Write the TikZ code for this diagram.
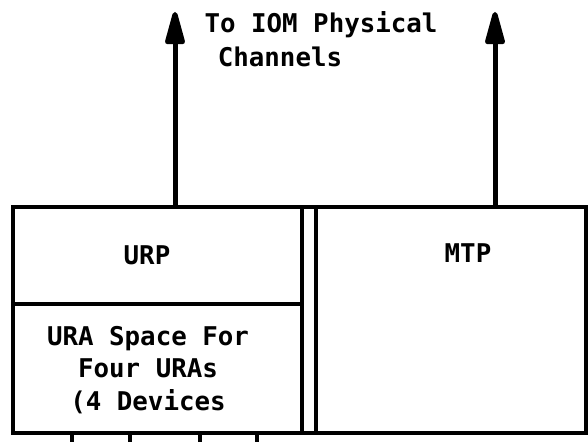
\documentclass[tikz,border=0pt]{standalone}
\usepackage{fontspec}
\newfontfamily\typeface{DejaVu Sans Mono}
\usetikzlibrary{arrows.meta}

\tikzset{
  boxline/.style={line width=1.8pt},
  chanarrow/.style={line width=2.5pt, -{Triangle[round,length=20pt,width=10pt]}},
  boxtext/.style={font=\typeface\bfseries\fontsize{12.9}{16.25}\selectfont, align=center, inner sep=0pt},
}

\begin{document}
\begin{tikzpicture}[x=0.5pt,y=-0.5pt]
  \useasboundingbox (0,0) rectangle (588,442);
  % outer frame, double wall between URP and MTP
  \draw[boxline] (13,207) rectangle (586,433);
  \draw[boxline] (302,207) -- (302,433);
  \draw[boxline] (316,207) -- (316,433);
  \draw[boxline] (13,304) -- (302,304);
  % device lines below the URA space
  \foreach \x in {72,130,200,257}
    \draw[boxline] (\x,433) -- (\x,442);
  % texts
  \node[boxtext] (urp) at (147,255) {URP};
  \node[boxtext] (mtp) at (468,253) {MTP};
  \node[boxtext] (ura) at (148,370) {URA Space For\\Four URAs\\(4 Devices};
  \node[boxtext] (chantop) at (321,25) {To IOM Physical};
  \node[boxtext] (chanbot) at (280,57) {Channels};
  % arrows up to the physical channels
  \coordinate (urpout) at (175,207);
  \coordinate (urpchan) at (175,12);
  \coordinate (mtpout) at (495,207);
  \coordinate (mtpchan) at (495,12);
  \draw[chanarrow] (urpout) -- (urpchan);
  \draw[chanarrow] (mtpout) -- (mtpchan);
\end{tikzpicture}
\end{document}
